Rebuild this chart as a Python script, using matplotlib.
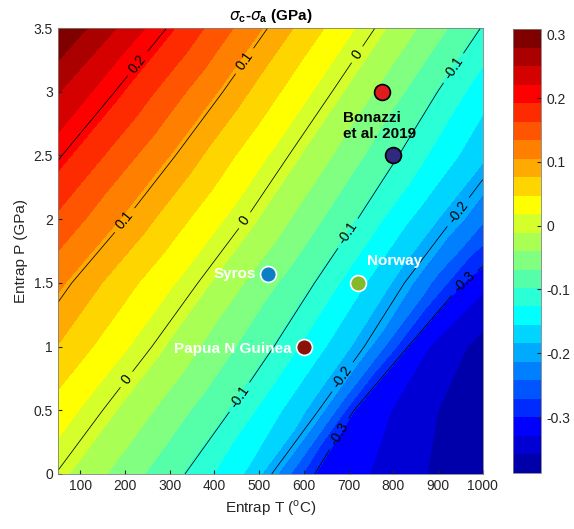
import numpy as np
import matplotlib
matplotlib.use('Agg')
import matplotlib.pyplot as plt
import matplotlib.tri as mtri
from matplotlib.colors import ListedColormap

plt.rcParams['font.family'] = ['Liberation Sans', 'DejaVu Sans']
plt.rcParams['axes.unicode_minus'] = False
plt.rcParams['mathtext.fontset'] = 'custom'
plt.rcParams['mathtext.rm'] = 'Liberation Sans'
plt.rcParams['mathtext.bf'] = 'Liberation Sans:bold'

nan = np.nan

# values, row by row in P (GPa)
P_rows = [0, 0.5, 1.0, 1.5, 2.0, 2.5, 3.0, 3.5]
T_left, T_right = 50, 1000
# sigma_c - sigma_a (GPa) at the left and right edges of each row
z_left = [-0.002, 0.034, 0.075, 0.111, 0.157, 0.204, 0.252, 0.308]
z_right = [-0.3875, -0.381, -0.370, -0.322, -0.236, -0.178, -0.143, -0.102]
# T (degC) where each row crosses a given stress value
crossings = {
    0.2:     [nan, nan, nan, nan, nan, 59, 177, 293],
    0.1:     [nan, nan, nan, 81, 202, 313, 419, 519],
    0.0:     [nan, 150, 260, 363, 470, 566, 663, 759],
    -0.1:    [334, 436, 533, 624, 720, 812, 899, 995],
    -0.15:   [455, 540, 638, 728, 826, 932, nan, nan],
    -0.2:    [528, 633, 735, 825, 933, nan, nan, nan],
    -0.25:   [577, 678, 788, 895, nan, nan, nan, nan],
    -0.3:    [624, 712, 833, 955, nan, nan, nan, nan],
    -0.3295: [747, 795, 880, nan, nan, nan, nan, nan],
    -0.3585: [875, 900, 965, nan, nan, nan, nan, nan],
}
line_levels = [-0.3, -0.2, -0.1, 0, 0.1, 0.2]

# samples
site_names = ['Bonazzi\net al. 2019', '', 'Syros', 'Norway', 'Papua N Guinea']
site_T = [775, 800, 520, 720, 600]
site_P = [3.0, 2.5, 1.57, 1.5, 1.0]
site_colors = ['#e01b1b', '#2e2a7e', '#0b7fc4', '#86b82c', '#8b1208']
site_edges = ['black', 'black', 'white', 'white', 'white']


def matlab_jet(n):
    # same ramps as MATLAB's jet(n)
    m = int(np.ceil(n / 4))
    u = np.concatenate([np.arange(1, m + 1) / m, np.ones(m - 1), np.arange(m, 0, -1) / m])
    g = int(np.ceil(m / 2)) - (1 if n % 4 == 1 else 0) + np.arange(1, len(u) + 1)
    r = g + m
    b = g - m
    cols = np.zeros((n, 3))
    for ch, idx in ((0, r), (1, g), (2, b)):
        ok = (idx >= 1) & (idx <= n)
        cols[idx[ok] - 1, ch] = u[ok]
    return ListedColormap(cols)


# gather all read samples
ts, ps, zs = [], [], []
for i, p in enumerate(P_rows):
    ts += [T_left, T_right]
    ps += [p, p]
    zs += [z_left[i], z_right[i]]
    for lev, tlist in crossings.items():
        if not np.isnan(tlist[i]):
            ts.append(tlist[i])
            ps.append(p)
            zs.append(lev)
ts, ps, zs = np.array(ts, float), np.array(ps, float), np.array(zs, float)

# triangulate in sheared units (contours run roughly along dT/dP ~ 200)
tri0 = mtri.Triangulation((ts - 200 * ps) / 250.0, ps)
tri = mtri.Triangulation(ts, ps, tri0.triangles)

levels = np.linspace(zs.min(), zs.max(), 25)
cmap = matlab_jet(24)

fig = plt.figure(figsize=(5.74, 5.29), dpi=100)
ax = fig.add_axes([0.101, 0.104, 0.740, 0.843])
cax = fig.add_axes([0.894, 0.106, 0.049, 0.839])

cf = ax.tricontourf(tri, zs, levels=levels, cmap=cmap)
cs = ax.tricontour(tri, zs, levels=line_levels, colors='black', linewidths=0.55,
                   linestyles='solid')
label_spots = [(229, 3.22), (472, 3.23), (200, 1.99), (720, 3.29), (468, 1.99), (204, 0.74),
               (937, 3.18), (698, 1.89), (457, 0.60), (944, 2.06), (687, 0.76), (955, 1.52), (676, 0.32)]
ax.clabel(cs, fmt='%g', fontsize=10, inline=True, inline_spacing=6, manual=label_spots)

for t, p, c, e in zip(site_T, site_P, site_colors, site_edges):
    ax.scatter(t, p, s=130, color=c, edgecolors=e, linewidths=1.2, zorder=5)

ax.text(688, 2.73, site_names[0], fontsize=11, fontweight='bold', color='black', va='center', ha='left', linespacing=1.15)
ax.text(492, 1.57, site_names[2], fontsize=11, fontweight='bold', color='white', va='center', ha='right')
ax.text(742, 1.67, site_names[3], fontsize=11, fontweight='bold', color='white', va='center', ha='left')
ax.text(573, 0.98, site_names[4], fontsize=11, fontweight='bold', color='white', va='center', ha='right')

ax.set_xlim(50, 1000)
ax.set_ylim(0, 3.5)
ax.set_xticks(range(100, 1001, 100))
ax.set_yticks(np.arange(0, 3.51, 0.5))
ax.set_yticklabels(['0', '0.5', '1', '1.5', '2', '2.5', '3', '3.5'])
ax.tick_params(direction='in', labelsize=10, colors='#262626', length=3)
for s in ax.spines.values():
    s.set_color('#808080')
    s.set_linewidth(0.6)
ax.set_xlabel(r'Entrap T ($^\mathregular{o}$C)', fontsize=11, color='#262626')
ax.set_ylabel('Entrap P (GPa)', fontsize=11, color='#262626')
ax.set_title(r'$\sigma_\mathbf{c}$-$\sigma_\mathbf{a}$ (GPa)', fontsize=11, fontweight='bold', pad=6)

cb = fig.colorbar(cf, cax=cax)
cb.set_ticks([-0.3, -0.2, -0.1, 0, 0.1, 0.2, 0.3])
cb.set_ticklabels(['-0.3', '-0.2', '-0.1', '0', '0.1', '0.2', '0.3'])
cax.tick_params(direction='in', labelsize=10, colors='#262626', length=3)
cb.outline.set_edgecolor('#808080')
cb.outline.set_linewidth(0.6)

fig.savefig('out.png', dpi=100)
